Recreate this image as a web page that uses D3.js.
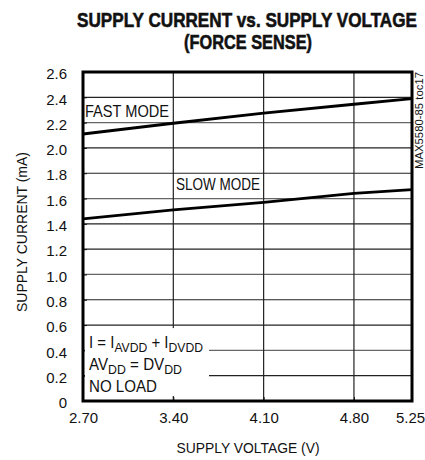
<!DOCTYPE html>
<html>
<head>
<meta charset="utf-8">
<script src="https://cdn.jsdelivr.net/npm/d3@7"></script>
<style>
    body { margin: 0; background: #fff; }
    text { font-family: "Liberation Sans", Arial, sans-serif; fill: #111; }
</style>
</head>
<body>
<script>
const voltages = [2.70, 3.40, 4.10, 4.80, 5.25];
const fastMode = [2.11, 2.195, 2.275, 2.345, 2.39];
const slowMode = [1.44, 1.51, 1.57, 1.64, 1.67];
const xTicks = [2.70, 3.40, 4.10, 4.80, 5.25];
const yTicks = [0, 0.2, 0.4, 0.6, 0.8, 1.0, 1.2, 1.4, 1.6, 1.8, 2.0, 2.2, 2.4, 2.6];

const margin = {
    left: 83, right: 13, top: 72, bottom: 59
}
const svgWidth = 425;
const svgHeight = 460;
const width = svgWidth - margin.left - margin.right;
const height = svgHeight - margin.top - margin.bottom;

const svg = d3
.select('body')
.append('svg')
.attr('width', svgWidth)
.attr('height', svgHeight)

const x = d3.scaleLinear().domain([2.70, 5.25]).range([0, width]);
const y = d3.scaleLinear().domain([0, 2.6]).range([height, 0]);

// the reference uses a narrow face, so squeeze text to its measured width
const squeeze = (sel, w) => sel.attr('textLength', w).attr('lengthAdjust', 'spacingAndGlyphs');

// title: scale horizontally so the heavy face reads condensed
const titleLine = (txt, cx, cy, w) => {
    const t = svg.append('text')
    .attr('text-anchor', 'middle')
    .style('font-weight', 'bold')
    .style('font-size', '19px')
    .style('stroke', '#111')
    .style('stroke-width', 0.55)
    .text(txt)
    const k = w / t.node().getComputedTextLength();
    t.attr('transform', `translate(${cx}, ${cy}) scale(${k}, 1.06)`)
}
titleLine('SUPPLY CURRENT vs. SUPPLY VOLTAGE', 247, 27, 340)
titleLine('(FORCE SENSE)', 248, 49, 128)

const g = svg.append('g')
.attr('transform', `translate(${margin.left}, ${margin.top})`)

// grid
g.append('g')
.selectAll('line')
.data(yTicks.slice(1, -1)).enter()
.append('line')
.attr('x1', 0)
.attr('x2', width)
.attr('y1', (d) => y(d))
.attr('y2', (d) => y(d))
.attr('stroke', (d, i) => i % 3 === 1 ? '#666' : '#222')
.attr('stroke-width', 1.2)

g.append('g')
.selectAll('line')
.data(xTicks.slice(1, -1)).enter()
.append('line')
.attr('x1', (d) => x(d))
.attr('x2', (d) => x(d))
.attr('y1', 0)
.attr('y2', height)
.attr('stroke', '#222')
.attr('stroke-width', 1.2)

// axes, ticks pointing inward
g.append('g')
.call(d3.axisLeft(y).tickValues(yTicks).tickSize(-4).tickPadding(16).tickFormat((d) => d === 0 ? '0' : d3.format('.1f')(d)))
.call((a) => a.select('.domain').remove())
.call((a) => a.selectAll('text').style('font-size', '15px').attr('dy', '0.45em').attr('fill', '#111'))
.call((a) => a.selectAll('line').attr('stroke', '#111'))

g.append('g')
.attr('transform', `translate(0, ${height})`)
.call(d3.axisBottom(x).tickValues(xTicks).tickSize(-4).tickPadding(11).tickFormat(d3.format('.2f')))
.call((a) => a.select('.domain').remove())
.call((a) => a.selectAll('text').style('font-size', '15px').attr('fill', '#111')
    .attr('dx', (d) => d === 5.25 ? -2 : 0))
.call((a) => a.selectAll('line').attr('stroke', '#111'))

// note box covers the grid in the lower left
g.append('rect')
.attr('x', 2)
.attr('y', y(0.6) + 3)
.attr('width', 124)
.attr('height', height - y(0.6) - 8)
.attr('fill', '#fff')

const note = g.append('g')
.style('font-size', '16px')
const line1 = note.append('text').attr('x', 6).attr('y', 276)
line1.append('tspan').text('I = I')
line1.append('tspan').attr('dy', 4).style('font-size', '13px').text('AVDD')
line1.append('tspan').attr('dy', -4).text(' + I')
line1.append('tspan').attr('dy', 4).style('font-size', '13px').text('DVDD')
line1.call(squeeze, 114)
const line2 = note.append('text').attr('x', 6).attr('y', 298)
line2.append('tspan').text('AV')
line2.append('tspan').attr('dy', 4).style('font-size', '13px').text('DD')
line2.append('tspan').attr('dy', -4).text(' = DV')
line2.append('tspan').attr('dy', 4).style('font-size', '13px').text('DD')
line2.call(squeeze, 93)
note.append('text').attr('x', 6).attr('y', 320).text('NO LOAD').call(squeeze, 68)

// series
const line = d3.line()
.x((d) => x(d[0]))
.y((d) => y(d[1]))

const series = [fastMode, slowMode];
g.append('g')
.selectAll('path')
.data(series).enter()
.append('path')
.attr('d', (s) => line(voltages.map((v, i) => [v, s[i]])))
.attr('fill', 'none')
.attr('stroke', '#000')
.attr('stroke-width', 2.8)

g.append('text')
.attr('x', 2)
.attr('y', 44.5)
.style('font-size', '16.5px')
.text('FAST MODE')
.call(squeeze, 84)

g.append('text')
.attr('x', 93)
.attr('y', 118)
.style('font-size', '16.5px')
.text('SLOW MODE')
.call(squeeze, 84)

// frame
g.append('rect')
.attr('width', width)
.attr('height', height)
.attr('fill', 'none')
.attr('stroke', '#000')
.attr('stroke-width', 3)

// axis titles
svg.append('text')
.attr('x', 248)
.attr('y', 453)
.attr('text-anchor', 'middle')
.style('font-size', '15.5px')
.text('SUPPLY VOLTAGE (V)')
.call(squeeze, 143)

svg.append('text')
.attr('transform', 'translate(27, 232) rotate(-90)')
.attr('text-anchor', 'middle')
.style('font-size', '15.5px')
.text('SUPPLY CURRENT (mA)')
.call(squeeze, 160)

svg.append('text')
.attr('transform', 'translate(423, 72) rotate(-90)')
.attr('text-anchor', 'end')
.style('font-size', '10px')
.text('MAX5580-85 toc17')
.call(squeeze, 97)
</script>
</body>
</html>
